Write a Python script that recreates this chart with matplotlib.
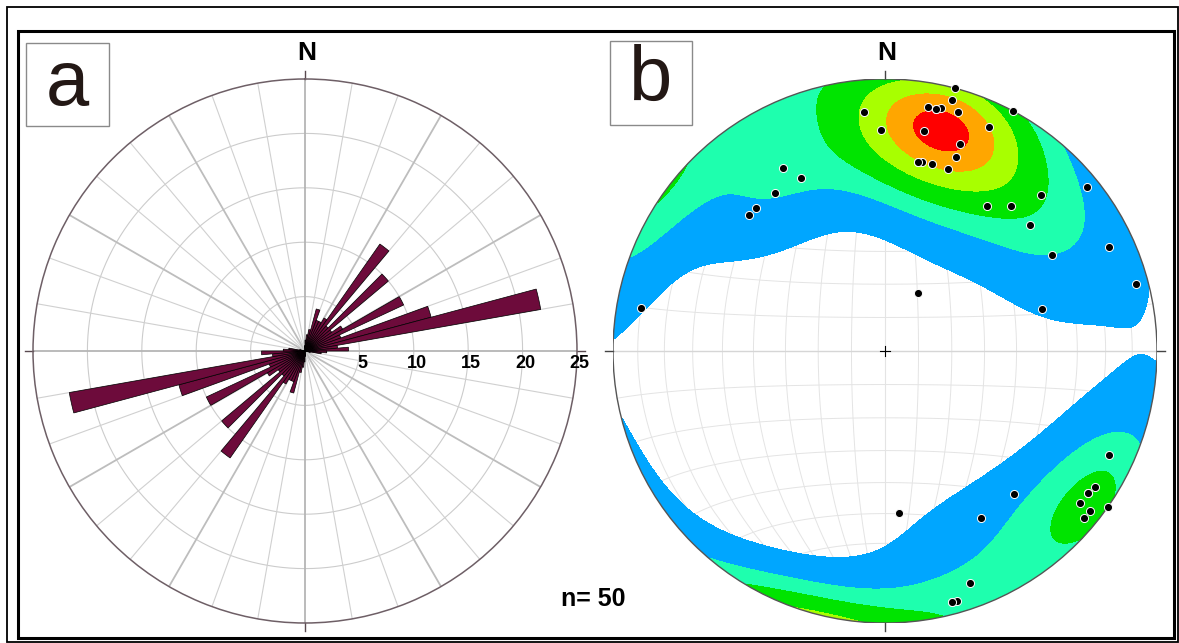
import numpy as np
import matplotlib
matplotlib.use("Agg")
import matplotlib.pyplot as plt
from matplotlib.patches import Rectangle, Circle

plt.rcParams['font.family'] = ['Liberation Sans', 'DejaVu Sans']

# (a) rose diagram, 5 degree bins 0-180 (mirrored, bidirectional)
rose_bins = np.arange(0, 180, 5)
rose_vals = [1, 1.5, 2, 4, 3, 3, 3.5, 12, 3, 10, 3, 4, 10, 3.5, 12, 22, 3, 4,
             2, 1.5, 0.5, 0, 0, 0, 0, 0, 0, 0, 0, 0, 0, 0, 0, 0, 0, 0.5]
rose_rings = [5, 10, 15, 20, 25]

# (b) poles, trend / plunge in degrees
pole_trend = [15, 15, 28, 355, 10, 12, 13, 17, 25, 359,
              10, 20, 20, 10, 11, 14, 19, 331, 334, 325,
              318, 315, 51, 45, 35, 41, 49, 60, 65, 75,
              75, 30, 280, 115, 123, 125, 128, 128, 130, 125,
              138, 150, 175, 160, 165, 164, 12, 10, 125, 165]
pole_plunge = [0, 5, 0, 13, 10, 10, 9, 9, 10, 20,
               19, 20, 25, 30, 30, 30, 30, 24, 30, 30,
               30, 30, 5, 20, 35, 30, 30, 30, 10, 5,
               40, 70, 10, 10, 9, 10, 10, 5, 5, 0,
               30, 30, 40, 10, 5, 5, 10, 30, 10, 5]
# density contour levels (multiples of uniform density) and fills
contour_levels = [0.68, 1.45, 2.05, 2.75, 3.35, 3.85]
contour_cols = ['#00A6FF', '#1EFFAE', '#00E400', '#A8FF00', '#FFA600', '#FF0000']

W, H = 1179, 643
fig = plt.figure(figsize=(W / 100, H / 100), dpi=100)


def fx(x):
    return x / W


def fy(y):
    return 1 - y / H


# frames
fig.add_artist(Rectangle((fx(7), fy(642)), fx(1178) - fx(7), fy(7) - fy(642),
                         transform=fig.transFigure, fill=False, ec='black', lw=1.3))
fig.add_artist(Rectangle((fx(18), fy(638)), fx(1174) - fx(18), fy(31) - fy(638),
                         transform=fig.transFigure, fill=False, ec='black', lw=2.2))
for x0, y0, x1, y1 in [(26, 43, 109, 126), (610, 41, 692, 125)]:
    fig.add_artist(Rectangle((fx(x0), fy(y1)), fx(x1) - fx(x0), fy(y0) - fy(y1),
                             transform=fig.transFigure, fill=False, ec='#8a8a8a', lw=1.0))
fig.text(fx(67), fy(84), 'a', fontsize=56, ha='center', va='center', color='#231815')
fig.text(fx(651), fy(80), 'b', fontsize=56, ha='center', va='center', color='#231815')
fig.text(fx(307), fy(53), 'N', fontsize=19, weight='bold', ha='center', va='center')
fig.text(fx(887), fy(53), 'N', fontsize=19, weight='bold', ha='center', va='center')
fig.text(fx(593), fy(599), 'n= 50', fontsize=18, weight='bold', ha='center', va='center')

# ---------- panel a : rose ----------
R = 272
axa = fig.add_axes([fx(305 - R), fy(351 + R), 2 * R / W, 2 * R / H], projection='polar')
axa.set_theta_zero_location('N')
axa.set_theta_direction(-1)
axa.set_ylim(0, 25)
axa.grid(False)
axa.set_xticks([])
axa.set_yticks([])
axa.spines['polar'].set_color('#6e5f66')
axa.spines['polar'].set_linewidth(1.1)

full = np.linspace(0, 2 * np.pi, 361)
for r in rose_rings[:-1]:
    axa.plot(full, np.full_like(full, r), color='#cccccc', lw=0.8, zorder=1)
for d in range(0, 360, 10):
    t = np.radians(d)
    if d % 90 == 0:
        c, lw = '#b5b5b5', 1.3
    elif d % 30 == 0:
        c, lw = '#bdbdbd', 1.3
    else:
        c, lw = '#d0d0d0', 0.8
    axa.plot([t, t], [0, 25], color=c, lw=lw, zorder=1)
for d in range(0, 360, 90):
    t = np.radians(d)
    axa.plot([t, t], [25, 25.75], color='#5a4a50', lw=1.0, clip_on=False)

theta = np.radians(np.concatenate([rose_bins, rose_bins + 180]) + 2.5)
vals = np.concatenate([rose_vals, rose_vals])
axa.bar(theta, vals, width=np.radians(5), bottom=0, color='#6d0b3b',
        edgecolor='black', lw=0.5, zorder=3)
for r in rose_rings:
    axa.annotate(str(r), xy=(np.pi / 2, r), xytext=(2, -3), textcoords='offset points',
                 ha='center', va='top', fontsize=13, weight='bold', zorder=5,
                 annotation_clip=False)

# ---------- panel b : stereonet (equal area, lower hemisphere) ----------
axb = fig.add_axes([fx(885 - R), fy(351 + R), 2 * R / W, 2 * R / H])
axb.set_xlim(-1, 1)
axb.set_ylim(-1, 1)
axb.set_aspect('equal')
axb.axis('off')


def proj(cn, ce, cd):
    s = 1 / np.sqrt(1 + cd)
    return ce * s, cn * s


gridc = '#e4e4e4'
a = np.linspace(0, np.pi, 181)
for d in range(10, 90, 10):
    dr = np.radians(d)
    for sg in (1, -1):
        x, y = proj(np.cos(a), sg * np.sin(a) * np.cos(dr), np.sin(a) * np.sin(dr))
        axb.plot(x, y, color=gridc, lw=0.7, zorder=1)
for b in range(10, 180, 10):
    br = np.radians(b)
    x, y = proj(np.cos(br) * np.ones_like(a), np.sin(br) * np.cos(a), np.sin(br) * np.sin(a))
    axb.plot(x, y, color=gridc, lw=0.7, zorder=1)
axb.plot([0, 0], [-1, 1], color=gridc, lw=0.8, zorder=1)
axb.plot([-1, 1], [0, 0], color='#d6d6d6', lw=1.0, zorder=1)

# density of poles (exponential Kamb kernel, axial)
tr = np.radians(pole_trend)
pl = np.radians(pole_plunge)
P = np.column_stack([np.cos(pl) * np.cos(tr), np.cos(pl) * np.sin(tr), np.sin(pl)])
n = len(P)
k = 2 * (1 + n / 9.0)
g = np.linspace(-1.02, 1.02, 321)
GX, GY = np.meshgrid(g, g)
r2 = GX ** 2 + GY ** 2
cd = np.clip(1 - r2, 0, 1)
h = np.sqrt(1 - cd ** 2)
rr = np.sqrt(r2)
rr[rr == 0] = 1
G = np.stack([h * GY / rr, h * GX / rr, cd], axis=-1)
dots = np.abs(G @ P.T)
D = np.exp(k * (dots - 1)).sum(axis=-1) / (n * (1 - np.exp(-k)) / k)

levels = contour_levels + [max(D.max(), contour_levels[-1]) + 1]
cf = axb.contourf(GX, GY, D, levels=levels, colors=contour_cols, zorder=2)
prim = Circle((0, 0), 1, transform=axb.transData, fill=False)
cf.set_clip_path(prim)
axb.add_patch(Circle((0, 0), 1, fill=False, ec='#555555', lw=1.0, zorder=4))

px, py = proj(P[:, 0], P[:, 1], P[:, 2])
axb.scatter(px, py, s=34, color='black', edgecolors='white', linewidths=0.7, zorder=5)
axb.plot([-0.02, 0.02], [0, 0], color='black', lw=0.8, zorder=5)
axb.plot([0, 0], [-0.02, 0.02], color='black', lw=0.8, zorder=5)
for ang in range(0, 360, 90):
    t = np.radians(ang)
    axb.plot([np.sin(t), 1.03 * np.sin(t)], [np.cos(t), 1.03 * np.cos(t)],
             color='#444444', lw=1.0, clip_on=False)

fig.savefig('out.png', dpi=100)
